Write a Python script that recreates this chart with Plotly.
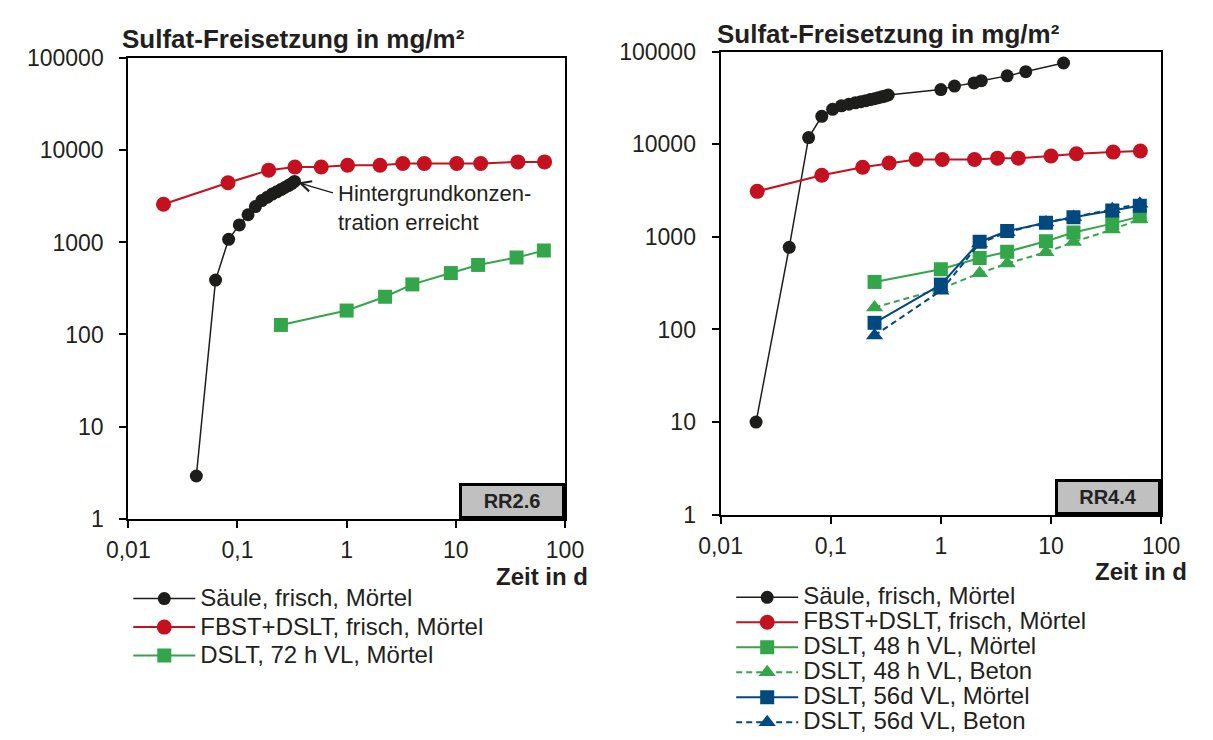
import math
import plotly.graph_objects as go

# ---------------- data: RR2.6 (left panel) ----------------
saeule_l_x = [0.042, 0.063, 0.083, 0.104, 0.125, 0.146, 0.167, 0.188, 0.208, 0.229, 0.25, 0.271, 0.292, 0.313, 0.333]
saeule_l_y = [2.9, 390, 1080, 1550, 2000, 2450, 2850, 3100, 3350, 3550, 3750, 3950, 4150, 4350, 4600]

fbst_l_x = [0.021, 0.082, 0.193, 0.336, 0.585, 1.02, 2.02, 3.27, 5.15, 10.2, 16.9, 37.0, 65.0]
fbst_l_y = [2600, 4450, 6100, 6600, 6600, 6900, 6900, 7200, 7200, 7200, 7200, 7500, 7500]

dslt72_x = [0.25, 1, 2.25, 4, 9, 16, 36, 64]
dslt72_y = [127, 182, 257, 350, 465, 570, 685, 815]

# ---------------- data: RR4.4 (right panel) ----------------
saeule_r_x = [0.021, 0.042, 0.063, 0.083, 0.104, 0.125, 0.146, 0.167, 0.188, 0.208, 0.229, 0.25,
              0.271, 0.292, 0.313, 0.333, 1.0, 1.33, 2.0, 2.33, 4.0, 5.9, 13.0]
saeule_r_y = [10, 770, 11800, 20000, 23800, 26000, 27000, 28000, 28800, 29500, 30300, 31000,
              31800, 32500, 33200, 34000, 38900, 42400, 45900, 48500, 54700, 60700, 75300]

fbst_r_x = [0.0215, 0.083, 0.195, 0.339, 0.597, 1.03, 2.02, 3.27, 5.05, 10.0, 17.0, 36.7, 64.8]
fbst_r_y = [3100, 4630, 5650, 6270, 6850, 6850, 6850, 7070, 7070, 7470, 7900, 8220, 8450]

dslt_x = [0.25, 1, 2.25, 4, 9, 16, 36, 64]
dslt48_moertel_y = [326, 447, 590, 690, 895, 1115, 1390, 1665]
dslt48_beton_y = [173, 275, 405, 516, 683, 878, 1200, 1545]
dslt56_moertel_y = [118, 305, 885, 1155, 1418, 1625, 1925, 2170]
dslt56_beton_y = [86, 262, 850, 1120, 1430, 1640, 1980, 2270]

x_tickvals = [0.01, 0.1, 1, 10, 100]
x_ticktext = ["0,01", "0,1", "1", "10", "100"]
y_tickvals = [1, 10, 100, 1000, 10000, 100000]
y_ticktext = ["1", "10", "100", "1000", "10000", "100000"]

title_text = "Sulfat-Freisetzung in mg/m²"
xlabel_text = "Zeit in d"
note_text = "Hintergrundkonzen-<br>tration erreicht"

# ---------------- styling ----------------
FONT = "Liberation Sans, Arial, sans-serif"
TXT = "#231f20"
BLACK = "#1d1d1b"
RED = "#c4101f"
GREEN = "#33a54a"
BLUE = "#00497f"
LEG_SPAN = '<span style="font-size:24px">{}</span>'

W, H = 1213, 740


def px_x(p):
    return p / W


def px_y(p):
    return 1 - p / H


fig = go.Figure()


def add(x, y, name, color, symbol, size, lw, dash, xa, ya, legend):
    fig.add_trace(go.Scatter(
        x=x, y=y, mode="lines+markers", name=LEG_SPAN.format(name),
        line=dict(color=color, width=lw, dash=dash),
        marker=dict(color=color, symbol=symbol, size=size, line=dict(width=0)),
        xaxis=xa, yaxis=ya, legend=legend, hovertemplate=name + ": %{x}, %{y}<extra></extra>",
    ))


# left panel
add(saeule_l_x, saeule_l_y, "Säule, frisch, Mörtel", BLACK, "circle", 13, 1.5, "solid", "x", "y", "legend")
add(fbst_l_x, fbst_l_y, "FBST+DSLT, frisch, Mörtel", RED, "circle", 15, 2, "solid", "x", "y", "legend")
add(dslt72_x, dslt72_y, "DSLT, 72 h VL, Mörtel", GREEN, "square", 14, 2, "solid", "x", "y", "legend")

# right panel
add(saeule_r_x, saeule_r_y, "Säule, frisch, Mörtel", BLACK, "circle", 13, 1.5, "solid", "x2", "y2", "legend2")
add(fbst_r_x, fbst_r_y, "FBST+DSLT, frisch, Mörtel", RED, "circle", 15, 2, "solid", "x2", "y2", "legend2")
add(dslt_x, dslt48_moertel_y, "DSLT, 48 h VL, Mörtel", GREEN, "square", 14, 2, "solid", "x2", "y2", "legend2")
add(dslt_x, dslt48_beton_y, "DSLT, 48 h VL, Beton", GREEN, "triangle-up", 15, 2, "6px,4px", "x2", "y2", "legend2")
add(dslt_x, dslt56_moertel_y, "DSLT, 56d VL, Mörtel", BLUE, "square", 14, 2, "solid", "x2", "y2", "legend2")
add(dslt_x, dslt56_beton_y, "DSLT, 56d VL, Beton", BLUE, "triangle-up", 15, 2, "6px,4px", "x2", "y2", "legend2")

axis_common = dict(
    type="log", showline=True, mirror=True, linecolor="black", linewidth=2,
    ticks="outside", ticklen=7, tickwidth=1.5, tickcolor="black",
    showgrid=False, zeroline=False,
    tickfont=dict(family=FONT, size=23, color=TXT),
)

fig.update_layout(
    width=W, height=H,
    margin=dict(l=0, r=0, t=0, b=0),
    paper_bgcolor="white", plot_bgcolor="white",
    font=dict(family=FONT, color=TXT),
    xaxis=dict(domain=[px_x(110), px_x(562)], range=[-2, 2], anchor="y",
               tickvals=x_tickvals, ticktext=x_ticktext, ticklabelstandoff=3, **axis_common),
    yaxis=dict(domain=[px_y(524), px_y(47)], range=[0, 5], anchor="x",
               tickvals=y_tickvals, ticktext=y_ticktext, ticklabelstandoff=11, **axis_common),
    xaxis2=dict(domain=[px_x(723), px_x(1179)], range=[-2, 2], anchor="y2",
                tickvals=x_tickvals, ticktext=x_ticktext, ticklabelstandoff=3, **axis_common),
    yaxis2=dict(domain=[px_y(520), px_y(40)], range=[0, 5], anchor="x2",
                tickvals=y_tickvals, ticktext=y_ticktext, ticklabelstandoff=11, **axis_common),
    legend=dict(x=px_x(110), y=px_y(587), xanchor="left", yanchor="top",
                font=dict(family=FONT, size=19.6, color=TXT), itemwidth=62,
                bgcolor="rgba(0,0,0,0)", borderwidth=0),
    legend2=dict(x=px_x(734), y=px_y(587.5), xanchor="left", yanchor="top",
                 font=dict(family=FONT, size=16.9, color=TXT), itemwidth=62,
                 bgcolor="rgba(0,0,0,0)", borderwidth=0),
    showlegend=True,
)

ann = []
# panel titles
ann.append(dict(xref="paper", yref="paper", x=px_x(101), y=px_y(27), xanchor="left", yanchor="middle",
                text="<b>" + title_text + "</b>", showarrow=False,
                font=dict(family=FONT, size=26, color=TXT)))
ann.append(dict(xref="paper", yref="paper", x=px_x(717), y=px_y(22), xanchor="left", yanchor="middle",
                text="<b>" + title_text + "</b>", showarrow=False,
                font=dict(family=FONT, size=26, color=TXT)))
# x axis labels
ann.append(dict(xref="paper", yref="paper", x=px_x(587), y=px_y(584), xanchor="right", yanchor="middle",
                text="<b>" + xlabel_text + "</b>", showarrow=False, borderpad=0,
                font=dict(family=FONT, size=24, color=TXT)))
ann.append(dict(xref="paper", yref="paper", x=px_x(1207), y=px_y(579), xanchor="right", yanchor="middle",
                text="<b>" + xlabel_text + "</b>", showarrow=False, borderpad=0,
                font=dict(family=FONT, size=24, color=TXT)))
# RR boxes
ann.append(dict(xref="x domain", yref="y domain", x=1, y=0, xanchor="right", yanchor="bottom",
                text="<b>RR2.6</b>", showarrow=False, width=100, height=30, borderpad=0,
                bgcolor="#c0c0c0", bordercolor="black", borderwidth=3,
                font=dict(family=FONT, size=20, color="#222222")))
ann.append(dict(xref="x2 domain", yref="y2 domain", x=1, y=0, xanchor="right", yanchor="bottom",
                text="<b>RR4.4</b>", showarrow=False, width=100, height=30, borderpad=0,
                bgcolor="#c0c0c0", bordercolor="black", borderwidth=3,
                font=dict(family=FONT, size=20, color="#222222")))
# note with arrow pointing at the last column-test point (log axes -> log10 positions)
nx = math.log10(saeule_l_x[-1])
ny = math.log10(saeule_l_y[-1])
ann.append(dict(xref="x", yref="y", x=nx, y=ny, axref="pixel", ayref="pixel",
                ax=40, ay=12, text="", showarrow=True, arrowhead=5, arrowsize=1.6, arrowwidth=1.3,
                arrowcolor=BLACK, standoff=4))
ann.append(dict(xref="x", yref="y", x=nx, y=ny, xshift=41, yshift=-27,
                xanchor="left", yanchor="middle", align="left", text=note_text, showarrow=False,
                font=dict(family=FONT, size=22, color=TXT)))
fig.update_layout(annotations=ann)

fig.write_html("out.html")
